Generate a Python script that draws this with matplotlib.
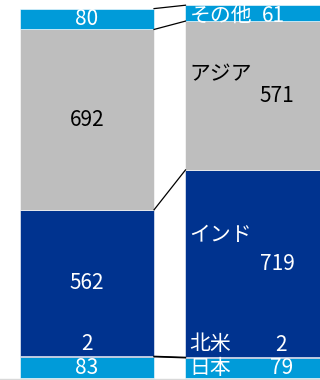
import numpy as np
import matplotlib
matplotlib.use('Agg')
import matplotlib.pyplot as plt

plt.rcParams['font.family'] = ['Noto Sans CJK JP', 'DejaVu Sans']

# segments from bottom to top
regions = ['日本', '北米', 'インド', 'アジア', 'その他']
left_vals = [83, 2, 562, 692, 80]
right_vals = [79, 2, 719, 571, 61]
colors = ['#009BD9', '#00338F', '#00338F', '#BEBEBE', '#009BD9']
text_colors = ['white', 'white', 'white', 'black', 'white']

fig = plt.figure(figsize=(3.2, 3.8), dpi=100)
ax = fig.add_axes([0, 0, 1, 1])

w = 0.81
xs = [0, 1]
left_bottoms = np.concatenate([[0], np.cumsum(left_vals)[:-1]])
right_bottoms = np.concatenate([[0], np.cumsum(right_vals)[:-1]])

for i in range(len(regions)):
    ax.bar(xs[0], left_vals[i], w, bottom=left_bottoms[i], color=colors[i],
           edgecolor='white', linewidth=0.4)
    ax.bar(xs[1], right_vals[i], w, bottom=right_bottoms[i], color=colors[i],
           edgecolor='white', linewidth=0.4)

# connector lines between cumulative tops
lt = np.cumsum(left_vals)
rt = np.cumsum(right_vals)
for i in range(len(regions)):
    ax.plot([xs[0] + w / 2, xs[1] - w / 2], [lt[i], rt[i]], color='black', lw=0.9)

fs = 15
# left bar labels
for i in range(len(regions)):
    mid = left_bottoms[i] + left_vals[i] / 2
    dy = 13 if regions[i] == '北米' else 0
    ax.annotate(str(left_vals[i]), (xs[0], mid), xytext=(0, dy), textcoords='offset pixels',
                ha='center', va='center', color=text_colors[i], fontsize=fs)

# right bar labels
name_x = xs[1] - w / 2 + 0.025
val_x = xs[1] + 0.15
name_dy = {'日本': 0, '北米': 14, 'インド': 29, 'アジア': 21, 'その他': -3}
val_dy = {'日本': 0, '北米': 13, 'インド': 0, 'アジア': 0, 'その他': -3}
val_dx = {'日本': 4, '北米': 4, 'インド': 0, 'アジア': 0, 'その他': -4}
for i in range(len(regions)):
    mid = right_bottoms[i] + right_vals[i] / 2
    r = regions[i]
    ax.annotate(r, (name_x, mid), xytext=(0, name_dy[r]), textcoords='offset pixels',
                ha='left', va='center', color=text_colors[i], fontsize=fs)
    ax.annotate(str(right_vals[i]), (val_x, mid), xytext=(val_dx[r], val_dy[r]),
                textcoords='offset pixels',
                ha='center', va='center', color=text_colors[i], fontsize=fs)

ax.axhline(-3, color='#D9D9D9', lw=1)
ax.set_xlim(-0.526, 1.408)
ax.set_ylim(-6, 1452)
ax.axis('off')

fig.savefig('out.png', dpi=100)
